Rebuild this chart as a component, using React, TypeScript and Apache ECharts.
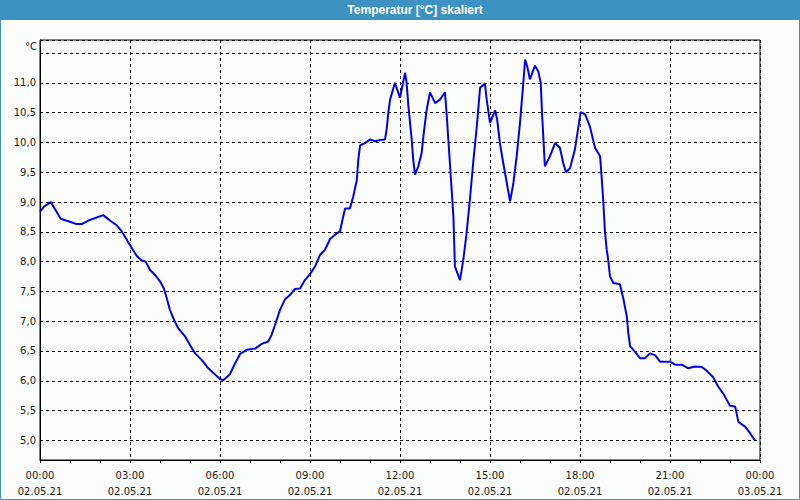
import React, { useEffect, useRef } from "react";
import * as echarts from "echarts";

const TITLE = "Temperatur [°C] skaliert";
const UNIT = "°C";
const DAY1 = "02.05.21";
const DAY2 = "03.05.21";

// hours since 02.05.21 00:00
const hours = [
  0.0, 0.15, 0.36, 0.69, 1.0, 1.22, 1.39, 1.61, 1.89, 2.11, 2.33, 2.56, 2.72, 2.89,
  3.06, 3.22, 3.39, 3.52, 3.67, 3.83, 4.0, 4.13, 4.24, 4.33, 4.47, 4.61, 4.83, 5.0,
  5.17, 5.39, 5.61, 5.78, 6.0, 6.11, 6.33, 6.5, 6.67, 6.89, 7.17, 7.39, 7.61, 7.72,
  7.87, 8.0, 8.17, 8.33, 8.5, 8.67, 8.83, 9.0, 9.17, 9.33, 9.5, 9.67, 9.83, 10.0,
  10.11, 10.17, 10.33, 10.44, 10.56, 10.61, 10.67, 10.83, 11.0, 11.17, 11.33, 11.5,
  11.56, 11.61, 11.67, 11.83, 12.0, 12.11, 12.17, 12.22, 12.28, 12.39, 12.44, 12.5,
  12.61, 12.72, 12.8, 12.89, 13.0, 13.17, 13.33, 13.5, 13.56, 13.67, 13.78, 13.83,
  14.0, 14.11, 14.22, 14.33, 14.44, 14.56, 14.67, 14.83, 14.89, 15.0, 15.09, 15.17,
  15.24, 15.33, 15.44, 15.56, 15.67, 15.78, 15.89, 16.0, 16.11, 16.17, 16.24, 16.33,
  16.5, 16.61, 16.69, 16.74, 16.8, 16.83, 17.0, 17.17, 17.33, 17.44, 17.53, 17.67,
  17.83, 17.94, 18.02, 18.17, 18.33, 18.5, 18.67, 18.72, 18.78, 18.83, 18.89, 18.94,
  19.0, 19.11, 19.33, 19.44, 19.56, 19.61, 19.67, 19.83, 20.0, 20.17, 20.33, 20.5,
  20.67, 21.0, 21.17, 21.39, 21.61, 21.83, 22.06, 22.22, 22.44, 22.61, 22.78, 23.0,
  23.17, 23.28, 23.5, 23.67, 23.83,
];

const temps = [
  8.84, 8.93, 9.0, 8.72, 8.67, 8.63, 8.63, 8.69, 8.74, 8.78, 8.69, 8.61, 8.51, 8.37,
  8.23, 8.1, 8.02, 8.0, 7.86, 7.78, 7.67, 7.55, 7.36, 7.19, 7.02, 6.88, 6.75, 6.6,
  6.46, 6.35, 6.21, 6.13, 6.03, 6.01, 6.11, 6.29, 6.45, 6.52, 6.54, 6.62, 6.66, 6.77,
  6.99, 7.19, 7.37, 7.44, 7.54, 7.55, 7.69, 7.79, 7.92, 8.11, 8.2, 8.38, 8.45, 8.51,
  8.76, 8.89, 8.89, 9.09, 9.37, 9.71, 9.95, 9.99, 10.05, 10.02, 10.04, 10.05,
  10.24, 10.5, 10.72, 11.0, 10.75, 11.03, 11.17, 11.0, 10.61, 10.05, 9.71, 9.46,
  9.6, 9.82, 10.19, 10.55, 10.84, 10.66, 10.72, 10.84, 10.44, 9.6, 8.76, 7.92,
  7.69, 8.03, 8.48, 9.04, 9.66, 10.27, 10.92, 10.99, 10.72, 10.33, 10.44, 10.54,
  10.38, 9.99, 9.66, 9.32, 9.01, 9.32, 9.77, 10.33, 11.0, 11.39, 11.28, 11.06,
  11.29, 11.19, 11.0, 10.44, 9.88, 9.6, 9.77, 9.99, 9.91, 9.66, 9.5, 9.57,
  9.88, 10.24, 10.51, 10.47, 10.27, 9.91, 9.77, 9.43, 8.98, 8.51, 8.2, 8.03,
  7.75, 7.64, 7.62, 7.39, 7.08, 6.8, 6.58, 6.49, 6.38, 6.38, 6.46, 6.43,
  6.32, 6.32, 6.27, 6.27, 6.21, 6.24, 6.23, 6.17, 6.06, 5.9, 5.78, 5.58,
  5.57, 5.31, 5.23, 5.12, 5.0,
];

const Y_MIN = 4.67;
const Y_MAX = 11.72;

export default function App() {
  const ref = useRef<HTMLDivElement>(null);

  useEffect(() => {
    if (!ref.current) return;
    const chart = echarts.init(ref.current, null, { renderer: "svg" });
    const font = "DejaVu Sans";
    const textColor = "#1a1a1a";
    const barColor = "#3d92c4";
    const dash = [3, 3];

    chart.setOption({
      animation: false,
      backgroundColor: "#fbfefd",
      textStyle: { fontFamily: font },
      graphic: [
        {
          type: "rect",
          shape: { x: 0, y: 0, width: 800, height: 20 },
          style: { fill: barColor },
          z: 10,
        },
        {
          type: "rect",
          shape: { x: 0.5, y: 0.5, width: 799, height: 499 },
          style: { fill: "none", stroke: barColor, lineWidth: 1 },
          z: 10,
        },
        {
          type: "text",
          x: 415,
          y: 10,
          style: {
            text: TITLE,
            fill: "#ffffff",
            font: "bold 12px 'Liberation Sans'",
            align: "center",
            verticalAlign: "middle",
          },
          z: 11,
        },
        {
          type: "text",
          x: 37,
          y: 46,
          style: {
            text: UNIT,
            fill: textColor,
            font: `10px '${font}'`,
            align: "right",
            verticalAlign: "middle",
          },
          z: 11,
        },
      ],
      grid: {
        left: 40,
        right: 40,
        top: 40,
        bottom: 40,
        show: true,
        borderColor: "#000",
        borderWidth: 1,
        backgroundColor: "transparent",
      },
      xAxis: {
        type: "value",
        min: 0,
        max: 24,
        interval: 3,
        axisLine: { show: true, lineStyle: { color: "#000", width: 1 } },
        axisTick: { show: true, length: 3, lineStyle: { color: "#000" } },
        minorTick: { show: true, splitNumber: 3, length: 3, lineStyle: { color: "#000" } },
        splitLine: { show: true, lineStyle: { color: "#000", type: dash, width: 1 } },
        axisLabel: {
          color: textColor,
          fontFamily: font,
          fontSize: 10,
          lineHeight: 16,
          margin: 7,
          showMinLabel: true,
          showMaxLabel: true,
          formatter: (v: number) => {
            const h = Math.round(v) % 24;
            const hh = (h < 10 ? "0" : "") + h + ":00";
            return hh + "\n" + (v >= 24 ? DAY2 : DAY1);
          },
        },
      },
      yAxis: {
        type: "value",
        min: Y_MIN,
        max: Y_MAX,
        splitNumber: 14,
        minInterval: 0.5,
        maxInterval: 0.5,
        axisLine: { show: true, lineStyle: { color: "#000", width: 1 } },
        axisTick: { show: false },
        splitLine: { show: true, lineStyle: { color: "#000", type: dash, width: 1 } },
        axisLabel: {
          color: textColor,
          fontFamily: font,
          fontSize: 10,
          margin: 4,
          showMinLabel: false,
          showMaxLabel: false,
          formatter: (v: number) => {
            if (v > 11.25 || v < 4.9) return "";
            return v.toFixed(1).replace(".", ",");
          },
        },
      },
      series: [
        {
          type: "line",
          data: hours.map((h, i) => [h, temps[i]]),
          showSymbol: false,
          symbol: "none",
          lineStyle: { color: "#0000ee", width: 2 },
          clip: true,
        },
      ],
    });

    return () => chart.dispose();
  }, []);

  return (
    <div
      ref={ref}
      style={{ position: "fixed", left: 0, top: 0, width: 800, height: 500 }}
    />
  );
}
